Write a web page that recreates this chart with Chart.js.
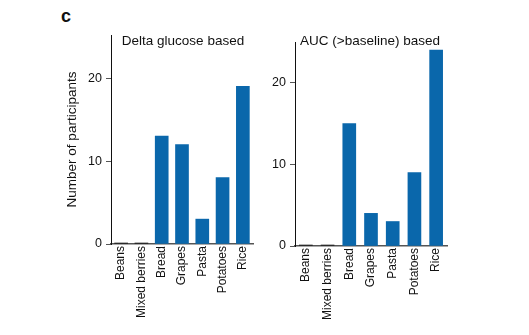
<!DOCTYPE html>
<html>
<head>
<meta charset="utf-8">
<script src="https://cdn.jsdelivr.net/npm/chart.js@4"></script>
<style>
  body { margin: 0; background: #fff; }
  #wrap { position: relative; width: 529px; height: 335px; font-family: "Liberation Sans", Arial, sans-serif; }
  .panel { position: absolute; top: 0; }
  #lbl { position: absolute; left: 61px; top: 6px; font-weight: bold; font-size: 18px; color: #111; }
</style>
</head>
<body>
<div id="wrap">
  <div id="lbl">c</div>
  <canvas id="left" class="panel" width="265" height="335" style="left:0"></canvas>
  <canvas id="right" class="panel" width="264" height="335" style="left:265px"></canvas>
</div>
<script>
const foods = ["Beans", "Mixed berries", "Bread", "Grapes", "Pasta", "Potatoes", "Rice"];
const deltaGlucose = [0, 0, 13, 12, 3, 8, 19];
const aucBaseline = [0, 0, 15, 4, 3, 9, 24];
const yTicks = [0, 10, 20];

const blue = "#0a67ab";
const fontFam = "'Liberation Sans', Arial, sans-serif";

// titles sit inside the plot area, just under the top of the y axis
const panelTitle = {
  id: "panelTitle",
  afterDraw(chart, args, opts) {
    const { ctx, chartArea } = chart;
    ctx.save();
    ctx.font = "13.5px " + fontFam;
    ctx.fillStyle = "#111";
    ctx.textAlign = "center";
    ctx.textBaseline = "middle";
    ctx.fillText(opts.text, (chartArea.left + chartArea.right) / 2 + opts.dx, chartArea.top + opts.dy);
    ctx.restore();
  },
};

function makePanel(id, values, title, o) {
  return new Chart(document.getElementById(id), {
    type: "bar",
    data: {
      labels: foods,
      datasets: [{
        data: values,
        // zero counts show as a short dark stub on the axis
        backgroundColor: (c) => (c.raw === 0 ? "#222" : blue),
        minBarLength: 1,
        barThickness: 13,
      }],
    },
    plugins: [panelTitle],
    options: {
      responsive: false,
      animation: false,
      layout: { padding: { left: o.padLeft, right: o.padRight, top: o.top, bottom: 0 } },
      plugins: {
        legend: { display: false },
        tooltip: { enabled: false },
        panelTitle: { text: title, dx: o.titleDx, dy: o.titleDy },
      },
      scales: {
        x: {
          grid: { display: false, drawTicks: false },
          border: { color: "#555", width: 1.5 },
          ticks: {
            color: "#111",
            font: { size: 12, family: fontFam },
            maxRotation: 90,
            minRotation: 90,
            padding: 2,
          },
          afterFit: (s) => { s.height = 335 - o.bottom; },
        },
        y: {
          min: 0,
          max: o.max,
          grid: { drawOnChartArea: false, tickLength: 5, color: "#555" },
          border: { color: "#111", width: 1 },
          ticks: {
            color: "#111",
            font: { size: 12.5, family: fontFam },
            padding: 4,
          },
          afterBuildTicks: (s) => { s.ticks = yTicks.map((v) => ({ value: v })); },
          title: {
            display: o.yTitle !== "",
            text: o.yTitle,
            color: "#111",
            font: { size: 13.5, family: fontFam },
            padding: 0,
          },
          afterFit: (s) => { s.width = o.axisX - o.padLeft; },
        },
      },
    },
  });
}

makePanel("left", deltaGlucose, "Delta glucose based", {
  padLeft: 64, padRight: 12, top: 35, bottom: 244, axisX: 111, max: 25.2,
  yTitle: "Number of participants", titleDx: 1, titleDy: 6,
});
makePanel("right", aucBaseline, "AUC (>baseline) based", {
  padLeft: 0, padRight: 82, top: 42, bottom: 246, axisX: 30, max: 25,
  yTitle: "", titleDx: -1, titleDy: -1,
});
</script>
</body>
</html>
